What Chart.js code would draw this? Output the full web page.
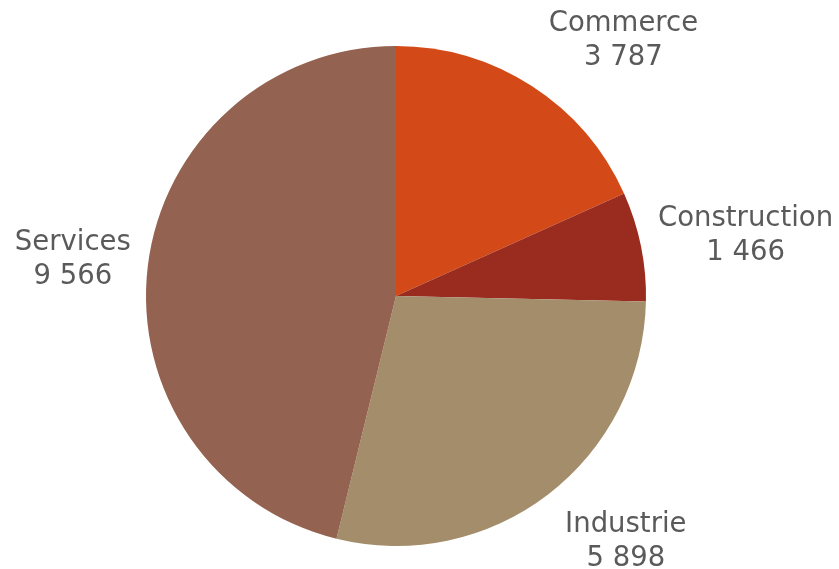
<!DOCTYPE html>
<html>
<head>
<meta charset="utf-8">
<script src="https://cdn.jsdelivr.net/npm/chart.js@4/dist/chart.umd.min.js"></script>
<style>
	html, body { margin: 0; padding: 0; background: #fff; }
	#wrap { width: 839px; height: 569px; }
</style>
</head>
<body>
<div id="wrap"><canvas id="sectors"></canvas></div>
<script>
const sectorNames = ["Commerce", "Construction", "Industrie", "Services"];
const sectorCounts = [3787, 1466, 5898, 9566];
const sectorColors = ["#d34a18", "#9a2b1f", "#a38d6b", "#946250"];

function formatCount(n) {
	return String(n).replace(/\B(?=(\d{3})+(?!\d))/g, " ");
}

// draws "name / value" outside each slice, pushed away from the rim
const outsideLabels = {
	id: "outsideLabels",
	afterDatasetsDraw(chart) {
		const ctx = chart.ctx;
		const arcs = chart.getDatasetMeta(0).data;
		const lineH = 34;
		ctx.save();
		ctx.font = "27.5px 'DejaVu Sans'";
		ctx.fillStyle = "#5a5a5a";
		ctx.textAlign = "center";
		ctx.textBaseline = "middle";
		arcs.forEach((arc, i) => {
			const p = arc.getProps(["x", "y", "startAngle", "endAngle", "outerRadius"], true);
			const mid = (p.startAngle + p.endAngle) / 2;
			const dx = Math.cos(mid);
			const dy = Math.sin(mid);
			const ex = p.x + p.outerRadius * dx;
			const ey = p.y + p.outerRadius * dy;
			const lines = [sectorNames[i], formatCount(sectorCounts[i])];
			const hw = Math.max(...lines.map(l => ctx.measureText(l).width)) / 2;
			const hh = lineH - 3;
			const cx = ex + Math.sign(dx) * (17 + hw);
			const cy = ey + Math.max(-1, Math.min(1, dy * 1.3)) * (15 + hh);
			ctx.fillText(lines[0], cx, cy - lineH / 2 + 1);
			ctx.fillText(lines[1], cx, cy + lineH / 2 + 1);
		});
		ctx.restore();
	}
};

const sectorChart = new Chart(document.getElementById("sectors"), {
	type: "pie",
	data: {
		labels: sectorNames,
		datasets: [{
			data: sectorCounts,
			backgroundColor: sectorColors,
			borderWidth: 0,
			hoverOffset: 0
		}]
	},
	options: {
		responsive: true,
		maintainAspectRatio: false,
		animation: false,
		layout: {
			padding: { left: 146, right: 193, top: 46, bottom: 23 }
		},
		plugins: {
			legend: { display: false },
			tooltip: { enabled: false }
		}
	},
	plugins: [outsideLabels]
});
</script>
</body>
</html>
